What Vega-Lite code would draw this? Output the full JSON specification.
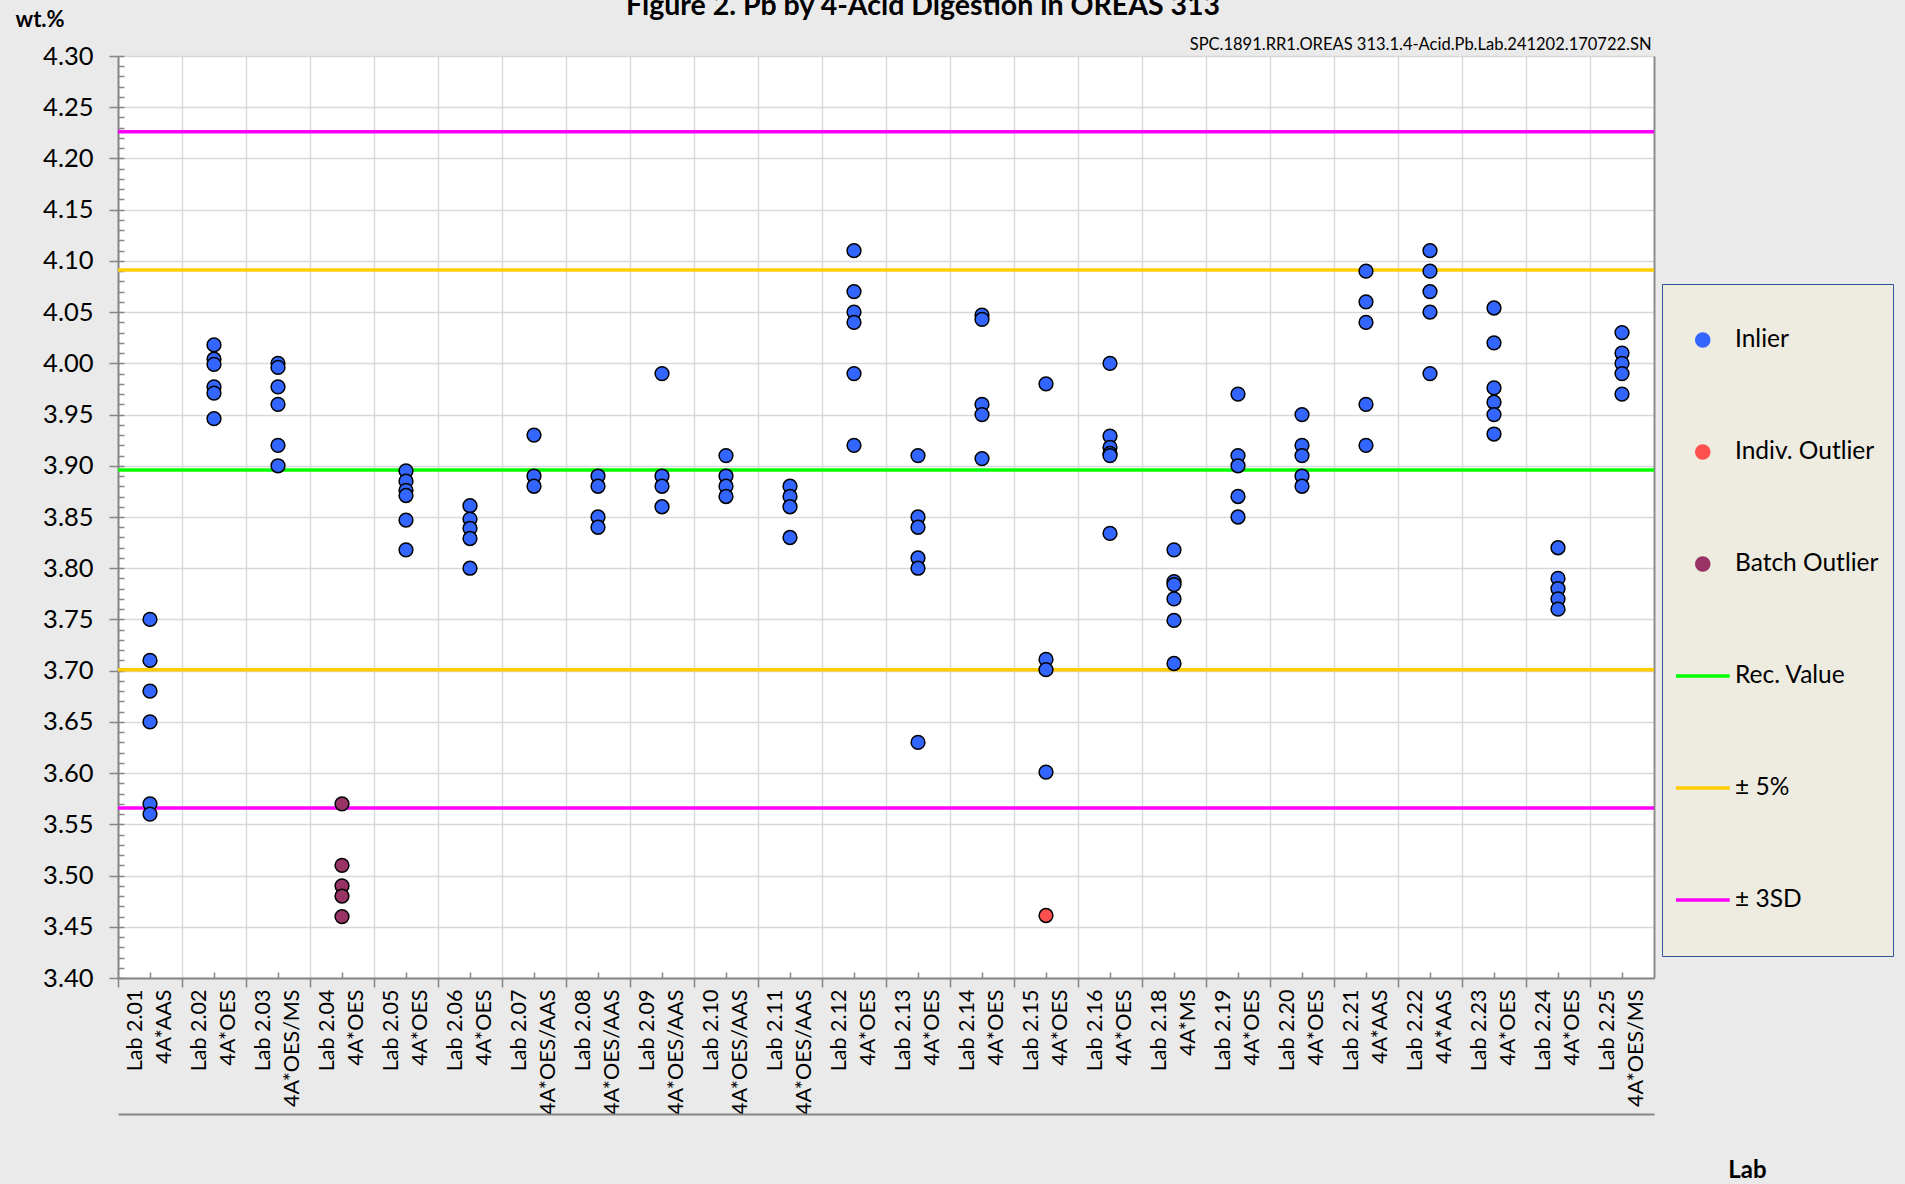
{
  "$schema": "https://vega.github.io/schema/vega-lite/v6.json",
  "autosize": {"type": "none"},
  "width": 1536,
  "height": 922,
  "padding": {"left": 118, "top": 56, "right": 251, "bottom": 206},
  "background": "#EAEAEA",
  "title": {"text": "Figure 2. Pb by 4-Acid Digestion in OREAS 313", "font": "Lato", "fontSize": 28.5, "fontWeight": "bold", "color": "black", "anchor": "middle", "frame": "group", "dx": 37, "offset": -12},
  "config": {"view": {"fill": "white", "stroke": null}, "axis": {"labelFont": "Lato", "titleFont": "Lato", "labelColor": "black", "titleColor": "black"}},
  "datasets": {
    "pts": [
      {"lab": "Lab 2.01|4A*AAS", "value": 3.75, "series": "Inlier"},
      {"lab": "Lab 2.01|4A*AAS", "value": 3.71, "series": "Inlier"},
      {"lab": "Lab 2.01|4A*AAS", "value": 3.68, "series": "Inlier"},
      {"lab": "Lab 2.01|4A*AAS", "value": 3.65, "series": "Inlier"},
      {"lab": "Lab 2.01|4A*AAS", "value": 3.57, "series": "Inlier"},
      {"lab": "Lab 2.01|4A*AAS", "value": 3.56, "series": "Inlier"},
      {"lab": "Lab 2.02|4A*OES", "value": 4.018, "series": "Inlier"},
      {"lab": "Lab 2.02|4A*OES", "value": 4.004, "series": "Inlier"},
      {"lab": "Lab 2.02|4A*OES", "value": 3.999, "series": "Inlier"},
      {"lab": "Lab 2.02|4A*OES", "value": 3.977, "series": "Inlier"},
      {"lab": "Lab 2.02|4A*OES", "value": 3.971, "series": "Inlier"},
      {"lab": "Lab 2.02|4A*OES", "value": 3.946, "series": "Inlier"},
      {"lab": "Lab 2.03|4A*OES/MS", "value": 4.0, "series": "Inlier"},
      {"lab": "Lab 2.03|4A*OES/MS", "value": 3.996, "series": "Inlier"},
      {"lab": "Lab 2.03|4A*OES/MS", "value": 3.977, "series": "Inlier"},
      {"lab": "Lab 2.03|4A*OES/MS", "value": 3.96, "series": "Inlier"},
      {"lab": "Lab 2.03|4A*OES/MS", "value": 3.92, "series": "Inlier"},
      {"lab": "Lab 2.03|4A*OES/MS", "value": 3.9, "series": "Inlier"},
      {"lab": "Lab 2.04|4A*OES", "value": 3.57, "series": "Batch Outlier"},
      {"lab": "Lab 2.04|4A*OES", "value": 3.51, "series": "Batch Outlier"},
      {"lab": "Lab 2.04|4A*OES", "value": 3.49, "series": "Batch Outlier"},
      {"lab": "Lab 2.04|4A*OES", "value": 3.48, "series": "Batch Outlier"},
      {"lab": "Lab 2.04|4A*OES", "value": 3.46, "series": "Batch Outlier"},
      {"lab": "Lab 2.05|4A*OES", "value": 3.895, "series": "Inlier"},
      {"lab": "Lab 2.05|4A*OES", "value": 3.885, "series": "Inlier"},
      {"lab": "Lab 2.05|4A*OES", "value": 3.876, "series": "Inlier"},
      {"lab": "Lab 2.05|4A*OES", "value": 3.871, "series": "Inlier"},
      {"lab": "Lab 2.05|4A*OES", "value": 3.847, "series": "Inlier"},
      {"lab": "Lab 2.05|4A*OES", "value": 3.818, "series": "Inlier"},
      {"lab": "Lab 2.06|4A*OES", "value": 3.861, "series": "Inlier"},
      {"lab": "Lab 2.06|4A*OES", "value": 3.848, "series": "Inlier"},
      {"lab": "Lab 2.06|4A*OES", "value": 3.839, "series": "Inlier"},
      {"lab": "Lab 2.06|4A*OES", "value": 3.829, "series": "Inlier"},
      {"lab": "Lab 2.06|4A*OES", "value": 3.8, "series": "Inlier"},
      {"lab": "Lab 2.07|4A*OES/AAS", "value": 3.93, "series": "Inlier"},
      {"lab": "Lab 2.07|4A*OES/AAS", "value": 3.89, "series": "Inlier"},
      {"lab": "Lab 2.07|4A*OES/AAS", "value": 3.88, "series": "Inlier"},
      {"lab": "Lab 2.08|4A*OES/AAS", "value": 3.89, "series": "Inlier"},
      {"lab": "Lab 2.08|4A*OES/AAS", "value": 3.88, "series": "Inlier"},
      {"lab": "Lab 2.08|4A*OES/AAS", "value": 3.85, "series": "Inlier"},
      {"lab": "Lab 2.08|4A*OES/AAS", "value": 3.84, "series": "Inlier"},
      {"lab": "Lab 2.09|4A*OES/AAS", "value": 3.99, "series": "Inlier"},
      {"lab": "Lab 2.09|4A*OES/AAS", "value": 3.89, "series": "Inlier"},
      {"lab": "Lab 2.09|4A*OES/AAS", "value": 3.88, "series": "Inlier"},
      {"lab": "Lab 2.09|4A*OES/AAS", "value": 3.86, "series": "Inlier"},
      {"lab": "Lab 2.10|4A*OES/AAS", "value": 3.91, "series": "Inlier"},
      {"lab": "Lab 2.10|4A*OES/AAS", "value": 3.89, "series": "Inlier"},
      {"lab": "Lab 2.10|4A*OES/AAS", "value": 3.88, "series": "Inlier"},
      {"lab": "Lab 2.10|4A*OES/AAS", "value": 3.87, "series": "Inlier"},
      {"lab": "Lab 2.11|4A*OES/AAS", "value": 3.88, "series": "Inlier"},
      {"lab": "Lab 2.11|4A*OES/AAS", "value": 3.87, "series": "Inlier"},
      {"lab": "Lab 2.11|4A*OES/AAS", "value": 3.86, "series": "Inlier"},
      {"lab": "Lab 2.11|4A*OES/AAS", "value": 3.83, "series": "Inlier"},
      {"lab": "Lab 2.12|4A*OES", "value": 4.11, "series": "Inlier"},
      {"lab": "Lab 2.12|4A*OES", "value": 4.07, "series": "Inlier"},
      {"lab": "Lab 2.12|4A*OES", "value": 4.05, "series": "Inlier"},
      {"lab": "Lab 2.12|4A*OES", "value": 4.04, "series": "Inlier"},
      {"lab": "Lab 2.12|4A*OES", "value": 3.99, "series": "Inlier"},
      {"lab": "Lab 2.12|4A*OES", "value": 3.92, "series": "Inlier"},
      {"lab": "Lab 2.13|4A*OES", "value": 3.91, "series": "Inlier"},
      {"lab": "Lab 2.13|4A*OES", "value": 3.85, "series": "Inlier"},
      {"lab": "Lab 2.13|4A*OES", "value": 3.84, "series": "Inlier"},
      {"lab": "Lab 2.13|4A*OES", "value": 3.81, "series": "Inlier"},
      {"lab": "Lab 2.13|4A*OES", "value": 3.8, "series": "Inlier"},
      {"lab": "Lab 2.13|4A*OES", "value": 3.63, "series": "Inlier"},
      {"lab": "Lab 2.14|4A*OES", "value": 4.047, "series": "Inlier"},
      {"lab": "Lab 2.14|4A*OES", "value": 4.043, "series": "Inlier"},
      {"lab": "Lab 2.14|4A*OES", "value": 3.96, "series": "Inlier"},
      {"lab": "Lab 2.14|4A*OES", "value": 3.95, "series": "Inlier"},
      {"lab": "Lab 2.14|4A*OES", "value": 3.907, "series": "Inlier"},
      {"lab": "Lab 2.15|4A*OES", "value": 3.98, "series": "Inlier"},
      {"lab": "Lab 2.15|4A*OES", "value": 3.711, "series": "Inlier"},
      {"lab": "Lab 2.15|4A*OES", "value": 3.701, "series": "Inlier"},
      {"lab": "Lab 2.15|4A*OES", "value": 3.601, "series": "Inlier"},
      {"lab": "Lab 2.15|4A*OES", "value": 3.461, "series": "Indiv. Outlier"},
      {"lab": "Lab 2.16|4A*OES", "value": 4.0, "series": "Inlier"},
      {"lab": "Lab 2.16|4A*OES", "value": 3.929, "series": "Inlier"},
      {"lab": "Lab 2.16|4A*OES", "value": 3.918, "series": "Inlier"},
      {"lab": "Lab 2.16|4A*OES", "value": 3.912, "series": "Inlier"},
      {"lab": "Lab 2.16|4A*OES", "value": 3.91, "series": "Inlier"},
      {"lab": "Lab 2.16|4A*OES", "value": 3.834, "series": "Inlier"},
      {"lab": "Lab 2.18|4A*MS", "value": 3.818, "series": "Inlier"},
      {"lab": "Lab 2.18|4A*MS", "value": 3.787, "series": "Inlier"},
      {"lab": "Lab 2.18|4A*MS", "value": 3.784, "series": "Inlier"},
      {"lab": "Lab 2.18|4A*MS", "value": 3.77, "series": "Inlier"},
      {"lab": "Lab 2.18|4A*MS", "value": 3.749, "series": "Inlier"},
      {"lab": "Lab 2.18|4A*MS", "value": 3.707, "series": "Inlier"},
      {"lab": "Lab 2.19|4A*OES", "value": 3.97, "series": "Inlier"},
      {"lab": "Lab 2.19|4A*OES", "value": 3.91, "series": "Inlier"},
      {"lab": "Lab 2.19|4A*OES", "value": 3.9, "series": "Inlier"},
      {"lab": "Lab 2.19|4A*OES", "value": 3.87, "series": "Inlier"},
      {"lab": "Lab 2.19|4A*OES", "value": 3.85, "series": "Inlier"},
      {"lab": "Lab 2.20|4A*OES", "value": 3.95, "series": "Inlier"},
      {"lab": "Lab 2.20|4A*OES", "value": 3.92, "series": "Inlier"},
      {"lab": "Lab 2.20|4A*OES", "value": 3.91, "series": "Inlier"},
      {"lab": "Lab 2.20|4A*OES", "value": 3.89, "series": "Inlier"},
      {"lab": "Lab 2.20|4A*OES", "value": 3.88, "series": "Inlier"},
      {"lab": "Lab 2.21|4A*AAS", "value": 4.09, "series": "Inlier"},
      {"lab": "Lab 2.21|4A*AAS", "value": 4.06, "series": "Inlier"},
      {"lab": "Lab 2.21|4A*AAS", "value": 4.04, "series": "Inlier"},
      {"lab": "Lab 2.21|4A*AAS", "value": 3.96, "series": "Inlier"},
      {"lab": "Lab 2.21|4A*AAS", "value": 3.92, "series": "Inlier"},
      {"lab": "Lab 2.22|4A*AAS", "value": 4.11, "series": "Inlier"},
      {"lab": "Lab 2.22|4A*AAS", "value": 4.09, "series": "Inlier"},
      {"lab": "Lab 2.22|4A*AAS", "value": 4.07, "series": "Inlier"},
      {"lab": "Lab 2.22|4A*AAS", "value": 4.05, "series": "Inlier"},
      {"lab": "Lab 2.22|4A*AAS", "value": 3.99, "series": "Inlier"},
      {"lab": "Lab 2.23|4A*OES", "value": 4.054, "series": "Inlier"},
      {"lab": "Lab 2.23|4A*OES", "value": 4.02, "series": "Inlier"},
      {"lab": "Lab 2.23|4A*OES", "value": 3.976, "series": "Inlier"},
      {"lab": "Lab 2.23|4A*OES", "value": 3.962, "series": "Inlier"},
      {"lab": "Lab 2.23|4A*OES", "value": 3.95, "series": "Inlier"},
      {"lab": "Lab 2.23|4A*OES", "value": 3.931, "series": "Inlier"},
      {"lab": "Lab 2.24|4A*OES", "value": 3.82, "series": "Inlier"},
      {"lab": "Lab 2.24|4A*OES", "value": 3.79, "series": "Inlier"},
      {"lab": "Lab 2.24|4A*OES", "value": 3.78, "series": "Inlier"},
      {"lab": "Lab 2.24|4A*OES", "value": 3.77, "series": "Inlier"},
      {"lab": "Lab 2.24|4A*OES", "value": 3.76, "series": "Inlier"},
      {"lab": "Lab 2.25|4A*OES/MS", "value": 4.03, "series": "Inlier"},
      {"lab": "Lab 2.25|4A*OES/MS", "value": 4.01, "series": "Inlier"},
      {"lab": "Lab 2.25|4A*OES/MS", "value": 4.0, "series": "Inlier"},
      {"lab": "Lab 2.25|4A*OES/MS", "value": 3.99, "series": "Inlier"},
      {"lab": "Lab 2.25|4A*OES/MS", "value": 3.97, "series": "Inlier"}
    ],
    "refs": [
      {"value": 3.896, "series": "Rec. Value"},
      {"value": 4.091, "series": "± 5%"},
      {"value": 3.701, "series": "± 5%"},
      {"value": 4.226, "series": "± 3SD"},
      {"value": 3.566, "series": "± 3SD"}
    ]
  },
  "layer": [
    {
      "data": {"name": "refs"},
      "mark": {"type": "rule", "strokeWidth": 3.5},
      "encoding": {
        "y": {"field": "value", "type": "quantitative", "scale": {"domain": [3.4, 4.3], "nice": false, "zero": false},
          "axis": {"orient": "right", "labels": false, "ticks": false, "grid": false, "domain": true, "domainColor": "#8C8C8C", "domainWidth": 2, "title": null}},
        "color": {"field": "series", "type": "nominal",
          "scale": {"domain": ["Inlier", "Indiv. Outlier", "Batch Outlier", "Rec. Value", "± 5%", "± 3SD"], "range": ["#3366FF", "#FF5050", "#993366", "#00FF00", "#FFCC00", "#FF00FF"]},
          "legend": {"orient": "none", "legendX": 1544, "legendY": 228, "title": null, "padding": 14,
            "fillColor": "#EEEBE0", "strokeColor": "#2F5597",
            "symbolSize": 2916, "clipHeight": 84, "rowPadding": 28, "symbolOffset": 14.5, "labelOffset": 20,
            "labelFont": "Lato", "labelFontSize": 24.5, "labelColor": "black", "labelLimit": 400,
            "encode": {"symbols": {"update": {
              "shape": {"signal": "indexof(['Rec. Value','± 5%','± 3SD'], datum.value) >= 0 ? 'stroke' : 'M-0.26,0A0.26,0.26,0,1,1,0.26,0A0.26,0.26,0,1,1,-0.26,0Z'"},
              "size": {"value": 2916},
              "fill": {"signal": "indexof(['Rec. Value','± 5%','± 3SD'], datum.value) >= 0 ? 'transparent' : scale('color', datum.value)"},
              "stroke": {"signal": "indexof(['Rec. Value','± 5%','± 3SD'], datum.value) >= 0 ? scale('color', datum.value) : 'black'"},
              "strokeWidth": {"signal": "indexof(['Rec. Value','± 5%','± 3SD'], datum.value) >= 0 ? 3.5 : 1.5"},
              "opacity": {"value": 1}
            }}}}}
      }
    },
    {
      "data": {"name": "pts"},
      "mark": {"type": "point", "filled": true, "size": 190, "stroke": "black", "strokeWidth": 1.5, "opacity": 1},
      "encoding": {
        "x": {"field": "lab", "type": "nominal", "sort": null, "scale": {"type": "band", "paddingInner": 0, "paddingOuter": 0},
          "axis": {"orient": "bottom", "bandPosition": 0, "labelOffset": -14.5, "labelAngle": 270, "labelAlign": "right", "labelBaseline": "middle",
            "labelExpr": "split(datum.label, '|')", "labelFontSize": 21.5, "labelLineHeight": 29, "labelPadding": 2, "labelLimit": 400,
            "grid": true, "gridColor": "#D9D9D9", "gridWidth": 1.5, "domain": true, "domainColor": "#868686", "domainWidth": 2,
            "ticks": true, "tickSize": 9, "tickColor": "#868686", "tickWidth": 1.5,
            "title": "Lab", "titleFontSize": 24, "titleFontWeight": "bold", "titleX": 1629, "titleY": 199, "titleAlign": "center", "titleBaseline": "alphabetic", "titleAngle": 0}},
        "y": {"field": "value", "type": "quantitative", "scale": {"domain": [3.4, 4.3], "nice": false, "zero": false},
          "axis": {"orient": "left", "values": [3.4, 3.45, 3.5, 3.55, 3.6, 3.65, 3.7, 3.75, 3.8, 3.85, 3.9, 3.95, 4.0, 4.05, 4.1, 4.15, 4.2, 4.25, 4.3],
            "format": ".2f", "labelFontSize": 25.5, "labelPadding": 16,
            "grid": true, "gridColor": "#D9D9D9", "gridWidth": 1.5, "domain": true, "domainColor": "#868686", "domainWidth": 2,
            "ticks": true, "tickSize": 9, "tickColor": "#868686", "tickWidth": 1.5,
            "title": "wt.%", "titleFontSize": 22, "titleFontWeight": "bold", "titleAngle": 0, "titleX": -103, "titleY": -30, "titleAlign": "left", "titleBaseline": "alphabetic"}},
        "color": {"field": "series", "type": "nominal",
          "scale": {"domain": ["Inlier", "Indiv. Outlier", "Batch Outlier", "Rec. Value", "± 5%", "± 3SD"], "range": ["#3366FF", "#FF5050", "#993366", "#00FF00", "#FFCC00", "#FF00FF"]},
          "legend": {"orient": "none", "legendX": 1544, "legendY": 228, "title": null, "padding": 14,
            "fillColor": "#EEEBE0", "strokeColor": "#2F5597",
            "symbolSize": 2916, "clipHeight": 84, "rowPadding": 28, "symbolOffset": 14.5, "labelOffset": 20,
            "labelFont": "Lato", "labelFontSize": 24.5, "labelColor": "black", "labelLimit": 400,
            "encode": {"symbols": {"update": {
              "shape": {"signal": "indexof(['Rec. Value','± 5%','± 3SD'], datum.value) >= 0 ? 'stroke' : 'M-0.26,0A0.26,0.26,0,1,1,0.26,0A0.26,0.26,0,1,1,-0.26,0Z'"},
              "size": {"value": 2916},
              "fill": {"signal": "indexof(['Rec. Value','± 5%','± 3SD'], datum.value) >= 0 ? 'transparent' : scale('color', datum.value)"},
              "stroke": {"signal": "indexof(['Rec. Value','± 5%','± 3SD'], datum.value) >= 0 ? scale('color', datum.value) : 'black'"},
              "strokeWidth": {"signal": "indexof(['Rec. Value','± 5%','± 3SD'], datum.value) >= 0 ? 3.5 : 1.5"},
              "opacity": {"value": 1}
            }}}}}
      }
    },
    {
      "data": {"name": "pts"},
      "mark": {"type": "point", "opacity": 0},
      "encoding": {
        "x": {"field": "lab", "type": "nominal", "sort": null,
          "axis": {"orient": "top", "labels": false, "ticks": false, "domain": false, "grid": false,
            "title": "SPC.1891.RR1.OREAS 313.1.4-Acid.Pb.Lab.241202.170722.SN", "titleFontSize": 16.5, "titleFontWeight": "normal",
            "titleX": 1533, "titleY": -7, "titleAlign": "right", "titleBaseline": "alphabetic", "titleAngle": 0}},
        "y": {"field": "value", "type": "quantitative",
          "axis": {"orient": "left", "values": [3.4, 3.41, 3.42, 3.43, 3.44, 3.45, 3.46, 3.47, 3.48, 3.49, 3.5, 3.51, 3.52, 3.53, 3.54, 3.55, 3.56, 3.57, 3.58, 3.59, 3.6, 3.61, 3.62, 3.63, 3.64, 3.65, 3.66, 3.67, 3.68, 3.69, 3.7, 3.71, 3.72, 3.73, 3.74, 3.75, 3.76, 3.77, 3.78, 3.79, 3.8, 3.81, 3.82, 3.83, 3.84, 3.85, 3.86, 3.87, 3.88, 3.89, 3.9, 3.91, 3.92, 3.93, 3.94, 3.95, 3.96, 3.97, 3.98, 3.99, 4.0, 4.01, 4.02, 4.03, 4.04, 4.05, 4.06, 4.07, 4.08, 4.09, 4.1, 4.11, 4.12, 4.13, 4.14, 4.15, 4.16, 4.17, 4.18, 4.19, 4.2, 4.21, 4.22, 4.23, 4.24, 4.25, 4.26, 4.27, 4.28, 4.29, 4.3],
            "labels": false, "domain": false, "grid": false, "ticks": true, "tickSize": -6, "tickColor": "#868686", "tickWidth": 1.5, "title": null}}
      }
    },
    {
      "data": {"name": "pts"},
      "mark": {"type": "point", "opacity": 0},
      "encoding": {
        "x": {"field": "lab", "type": "nominal", "sort": null,
          "axis": {"orient": "bottom", "offset": 136, "labels": false, "ticks": false, "grid": false, "domain": true, "domainColor": "#868686", "domainWidth": 2, "title": null}},
        "y": {"field": "value", "type": "quantitative", "axis": null}
      }
    },
    {
      "data": {"name": "pts"},
      "mark": {"type": "point", "opacity": 0},
      "encoding": {
        "x": {"field": "lab", "type": "nominal", "sort": null,
          "axis": {"orient": "bottom", "offset": 0, "bandPosition": 0.5, "labels": false, "ticks": true, "tickSize": -6, "tickColor": "#868686", "tickWidth": 1.5, "grid": false, "domain": false, "title": null}},
        "y": {"field": "value", "type": "quantitative", "axis": null}
      }
    }
  ],
  "resolve": {"axis": {"x": "independent", "y": "independent"}}
}
